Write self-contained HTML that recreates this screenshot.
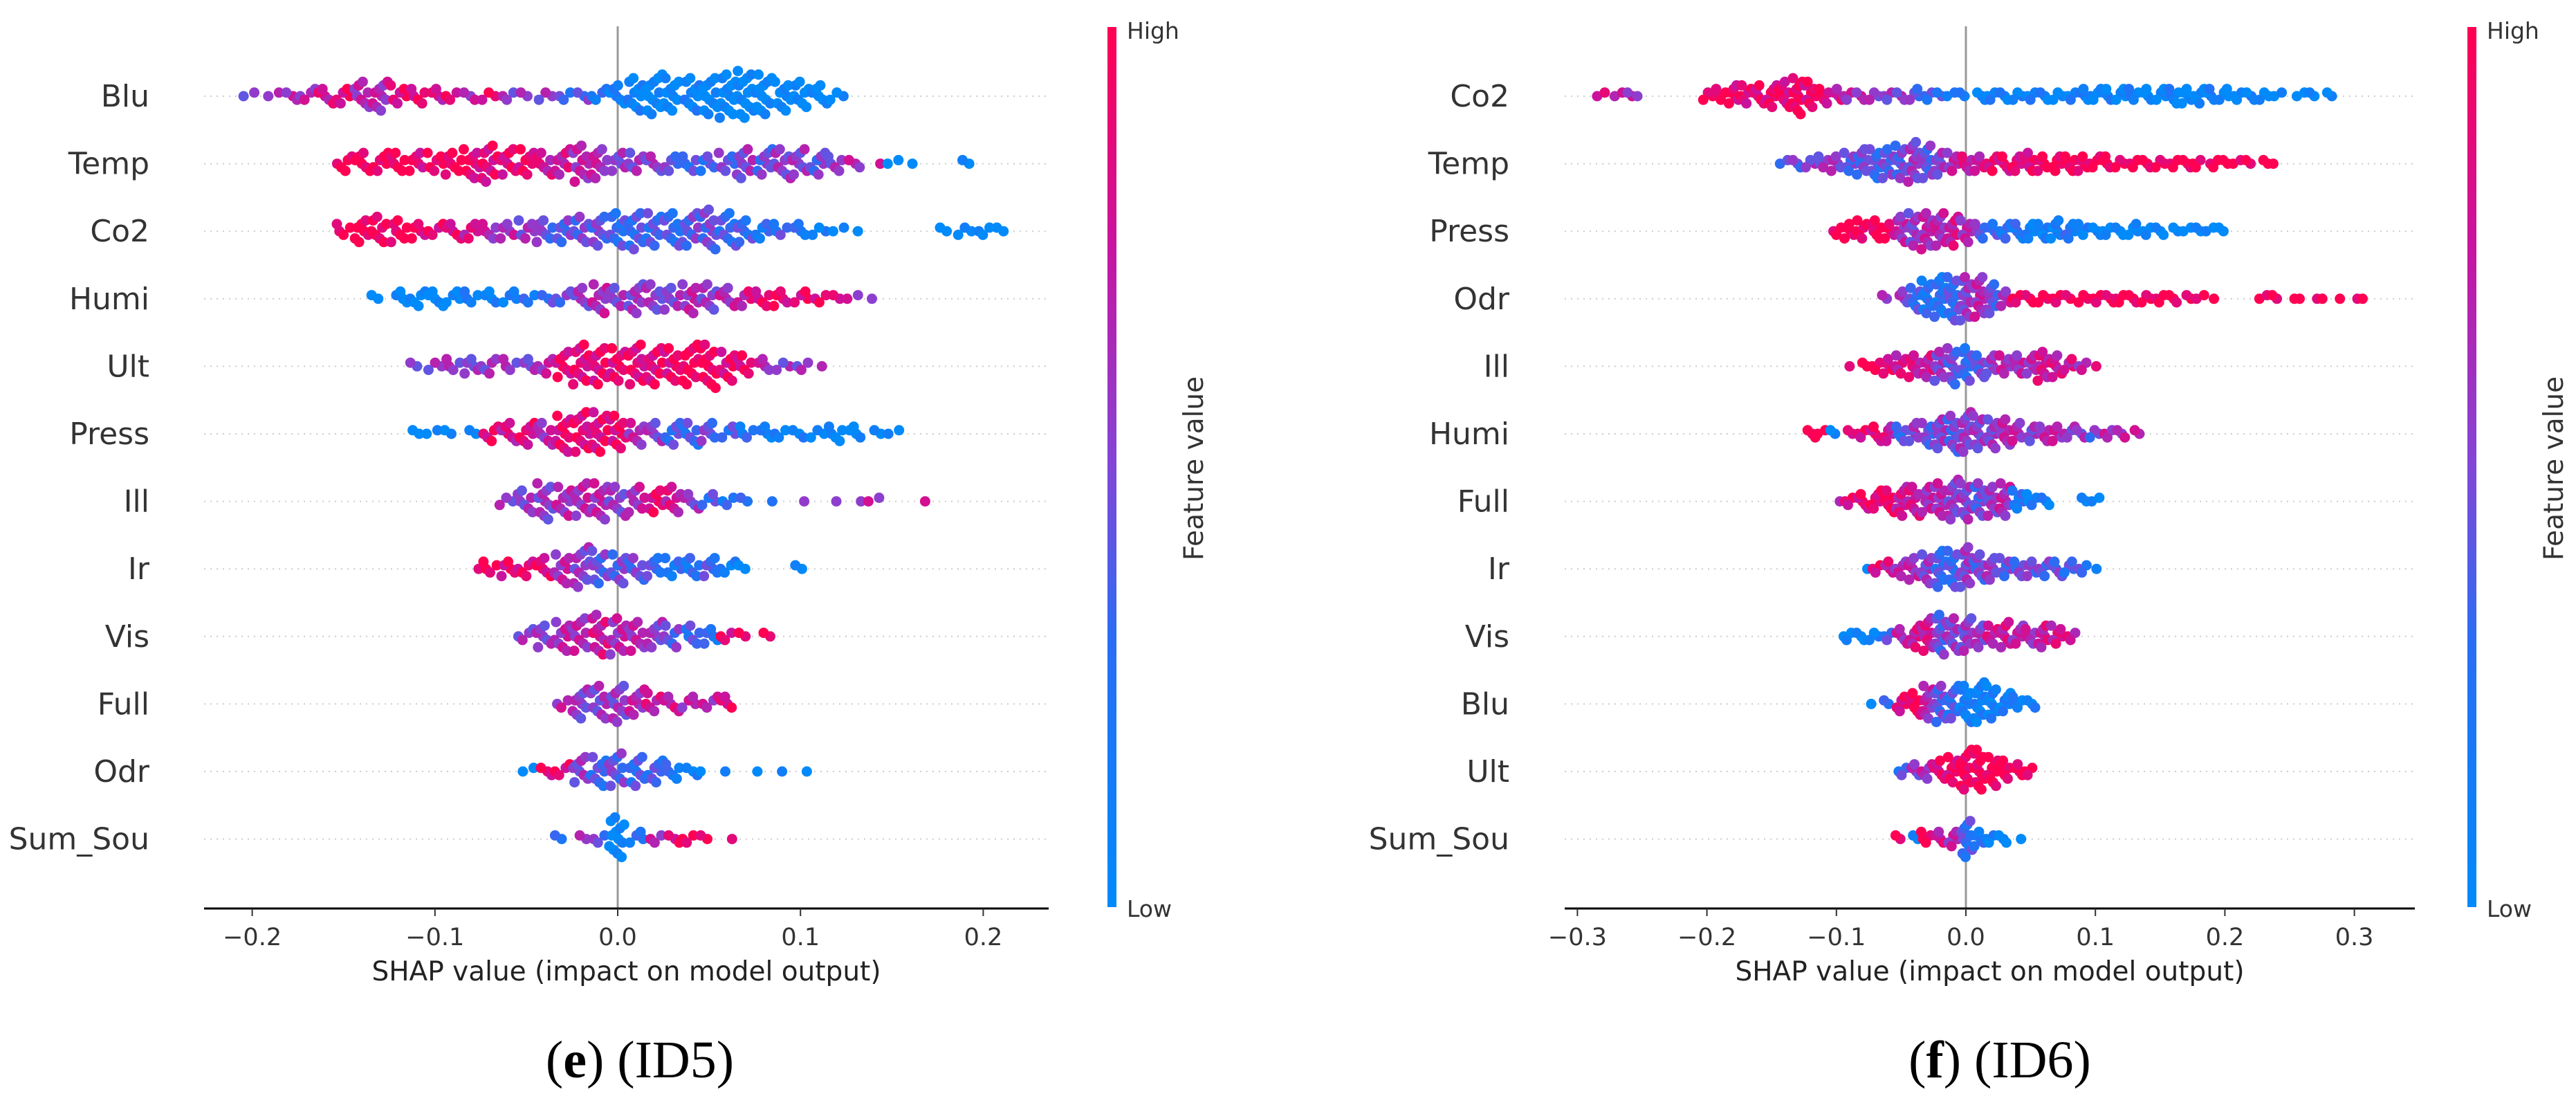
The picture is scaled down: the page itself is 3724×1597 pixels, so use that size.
<!DOCTYPE html>
<html><head><meta charset="utf-8"><style>
html,body{margin:0;padding:0;background:#fff}
svg{display:block}
text{font-family:"DejaVu Sans","Liberation Sans",sans-serif}
</style></head><body>
<svg id="fig" width="3724" height="1597" viewBox="0 0 3724 1597" xmlns="http://www.w3.org/2000/svg">
<defs>
<linearGradient id="cb" x1="0" y1="1" x2="0" y2="0">
<stop offset="0" stop-color="rgb(0,138,250)"/>
<stop offset="0.3" stop-color="rgb(40,110,245)"/>
<stop offset="0.5" stop-color="rgb(130,70,215)"/>
<stop offset="0.75" stop-color="rgb(200,20,160)"/>
<stop offset="1" stop-color="rgb(255,0,82)"/>
</linearGradient>
</defs>
</svg>
<script>
// ---- Panel (e) ID5 data ----
const featuresE = ["Blu","Temp","Co2","Humi","Ult","Press","Ill","Ir","Vis","Full","Odr","Sum_Sou"];
const startE = [-0.20,-0.15,-0.15,-0.13,-0.11,-0.11,-0.06,-0.08,-0.05,-0.03,-0.05,-0.03];
const countsE = [
[2,2,3,4,5,5,8,9,6,5,4,3,3,3,3,2,3,3,3,4,6,10,12,10,10,11,13,14,12,9,8,6,3],
[5,6,6,6,6,6,7,9,11,8,8,7,8,11,9,6,6,5,5,5,5,6,9,8,9,8,7,5,3,1,2,1,0,0,2],
[4,7,8,7,5,4,5,5,5,5,6,7,7,8,9,10,11,10,10,10,12,10,7,5,4,4,3,2,1,0,0,0,0,2,3,3,2],
[2,4,5,5,4,4,4,4,3,3,4,6,9,6,9,8,7,9,8,6,5,5,5,4,3,2,2,1],
[2,3,4,5,5,4,4,5,8,12,11,10,12,11,10,12,13,9,6,4,3,3,1],
[2,2,2,2,5,6,7,7,11,12,12,10,7,6,7,7,6,4,4,4,3,3,3,5,4,2,2],
[3,7,11,9,10,11,9,8,7,8,5,4,3,2,1,0,1,0,1,1,2,0,0,1],
[1,4,5,5,6,9,12,10,9,7,6,6,6,6,4,2,0,0,2],
[4,7,9,10,12,11,9,8,7,6,5,3,2,2],
[3,9,10,11,8,6,5,4,4,4],
[2,3,4,8,9,10,9,7,5,3,1,1,0,1,1,1],
[2,2,3,12,4,3,3,3,2,1]
];
const colorsE = [
[5,5,6,6,7,8,6,6,8,8,7,8,6,8,5,6,5,3,4,2,1,1,0,0,1,0,0,0,0,0,0,0,0],
[9,9,9,9,8,9,9,8,8,8,8,7,7,6,6,5,5,5,4,3,3,4,5,4,5,5,4,5,6,6,0,0,0,0,0],
[9,9,9,9,8,8,8,7,6,6,5,4,4,4,4,3,3,3,3,4,4,3,3,2,3,2,1,1,0,0,0,0,0,0,0,0,0],
[0,0,0,0,0,1,1,1,2,3,4,5,6,5,5,5,5,6,5,6,7,8,8,8,8,7,6,6],
[5,5,5,5,5,5,5,6,8,8,8,8,8,8,8,9,9,8,8,6,5,5,6],
[0,0,0,1,8,7,8,6,8,8,8,8,6,5,3,3,4,3,2,1,1,1,0,0,0,0,0],
[5,5,5,6,6,6,5,6,8,7,5,3,2,2,1,0,5,0,6,5,6,0,0,6],
[9,9,8,8,8,6,5,4,4,4,3,2,2,3,1,0,0,0,1],
[5,5,6,6,7,6,6,5,4,3,2,8,9,8],
[6,5,5,5,6,7,7,6,6,8],
[0,8,8,5,3,4,3,3,2,1,0,0,0,0,0,0],
[3,5,4,0,2,6,8,9,9,9]
];
const ticksE = [-0.2,-0.1,0.0,0.1,0.2];

// ---- Panel (f) ID6 data ----
const featuresF = ["Co2","Temp","Press","Odr","Ill","Humi","Full","Ir","Vis","Blu","Ult","Sum_Sou"];
const startF = [-0.28,-0.14,-0.10,-0.06,-0.09,-0.12,-0.10,-0.08,-0.09,-0.07,-0.05,-0.05];
const countsF = [
[2,2,2,1,0,0,0,0,3,4,6,6,6,7,8,11,8,5,4,3,3,3,3,3,4,3,2,2,2,3,3,3,3,3,3,3,3,4,4,4,4,4,4,4,5,5,5,4,4,3,3,3,2,0,2,2,2],
[2,3,3,4,5,6,8,9,9,10,12,10,7,6,5,5,5,5,5,6,5,5,5,5,4,4,3,3,3,3,3,3,3,3,2,2,2,2,1],
[3,5,6,6,5,8,10,11,10,9,7,5,4,5,5,5,5,6,5,4,3,3,3,4,3,3,2,2,2,2,2],
[2,4,7,10,12,13,13,12,9,5,3,3,3,3,2,3,3,3,3,3,3,3,3,2,2,1,0,0,0,2,2,1,1,1,1,1,1,1],
[1,2,3,5,6,7,7,9,11,10,7,6,6,6,6,9,7,4,3,1],
[3,2,2,2,3,5,5,5,6,7,9,11,12,10,9,8,6,5,5,5,4,3,3,3,3,2],
[1,3,5,6,7,9,9,8,10,12,11,10,9,10,6,4,3,0,0,2,2],
[1,3,4,5,7,9,11,11,12,8,7,6,5,5,5,5,4,3,1],
[3,3,3,3,5,7,10,12,10,10,7,6,8,6,5,7,6,3],
[1,2,5,7,10,11,10,11,12,10,6,4,3],
[3,4,5,6,8,12,12,9,6,4,3],
[2,2,4,4,5,11,5,3,3,1]
];
const colorsF = [
[8,6,6,6,0,0,0,0,9,9,8,8,8,8,8,9,8,8,7,6,6,5,5,5,4,3,3,2,1,1,1,1,1,1,1,0,1,1,0,1,0,1,0,0,1,0,0,1,0,0,1,0,0,0,0,0,0],
[4,4,5,5,5,4,4,3,4,4,5,4,5,6,7,7,8,8,8,8,9,9,9,9,9,9,9,9,9,9,9,9,9,9,9,9,9,9,9],
[9,9,9,9,8,6,5,6,6,7,6,4,3,2,2,1,1,1,2,1,1,0,0,0,0,0,0,0,0,0,0],
[6,5,3,2,2,3,5,6,4,6,9,9,9,9,9,9,9,9,9,9,9,9,9,9,9,9,9,9,9,9,9,9,9,9,9,9,9,9],
[9,9,9,8,7,7,7,5,4,3,4,5,6,6,6,7,7,7,6,8],
[9,9,0,8,8,8,7,3,5,4,5,4,5,5,5,6,6,5,6,6,5,5,4,6,6,6],
[7,8,8,8,9,7,7,6,6,5,5,4,5,6,2,1,1,0,0,0,0],
[1,8,7,6,6,5,3,3,5,4,5,4,4,4,4,4,3,3,2],
[0,0,1,3,6,7,7,4,5,5,5,7,7,6,6,7,7,7],
[1,2,8,9,6,4,3,1,1,1,1,1,1],
[3,5,6,8,8,9,9,9,9,9,9],
[9,0,9,7,6,3,2,1,0,0]
];
const ticksF = [-0.3,-0.2,-0.1,0.0,0.1,0.2,0.3];

const NS = "http://www.w3.org/2000/svg";
const svg = document.getElementById('fig');
function mk(tag, attrs, parent){
  const e = document.createElementNS(NS, tag);
  for (const k in attrs) e.setAttribute(k, attrs[k]);
  (parent||svg).appendChild(e);
  return e;
}
function col(v){
  v = Math.max(0, Math.min(1, v));
  const stops = [[0,[0,138,250]],[0.3,[40,110,245]],[0.5,[130,70,215]],[0.75,[200,20,160]],[1,[255,0,82]]];
  for (let i=1;i<stops.length;i++){
    if (v <= stops[i][0]){
      const a=stops[i-1], b=stops[i], t=(v-a[0])/(b[0]-a[0]);
      const c=a[1].map((x,j)=>Math.round(x+(b[1][j]-x)*t));
      return `rgb(${c[0]},${c[1]},${c[2]})`;
    }
  }
  return 'rgb(255,0,82)';
}

function panel(cfg){
  const g = mk('g', {});
  
  
  const xs = v => cfg.zero + v * cfg.unit;
  const ys = i => 139 + i * 97.6;
  cfg.features.forEach((f,i)=>{
    const l = mk('line', {x1:cfg.ax0, x2:cfg.ax1, y1:ys(i), y2:ys(i), stroke:'#cccccc', 'stroke-width':2, 'stroke-dasharray':'2 7'}, g);
    
    
  });
  const zl = mk('line', {x1:xs(0), x2:xs(0), y1:38, y2:1313, stroke:'#999999', 'stroke-width':3}, g);
  
  
  const bin = 0.01 * cfg.unit;
  cfg.features.forEach((f,i)=>{
    const rg = mk('g', {}, g);
    
    
    const cnt = cfg.counts[i], cl = cfg.colors[i];
    cnt.forEach((n,k)=>{
      const v = cfg.start[i] + k*0.01;
      for (let j=0;j<n;j++){
        const side = (j%2===0)?1:-1;
        const dy = side * Math.ceil(j/2) * 5.2;
        const ph = ((j*0.618 + k*0.371 + i*0.13) % 1) - 0.5;
        const dx = ph * bin * 0.95;
        const cv = cl[k]/9 + (((j+k)%3)-1)*0.13;
        const c = mk('circle', {cx:(xs(v)+dx).toFixed(1), cy:(ys(i)+dy).toFixed(1), r:7.5, fill:col(cv)}, rg);
        
        
      }
    });
    const t = mk('text', {x:cfg.labelX, y:ys(i)+15, 'text-anchor':'end', 'font-size':44, fill:'#333333'}, g);
    
    
    t.textContent = f;
  });
  const ax = mk('line', {x1:cfg.ax0, x2:cfg.ax1, y1:1313, y2:1313, stroke:'#000', 'stroke-width':3}, g);
  
  
  cfg.ticks.forEach(tv=>{
    const tk = mk('line', {x1:xs(tv), x2:xs(tv), y1:1313, y2:1324, stroke:'#333', 'stroke-width':2}, g);
    
    
    const tl = mk('text', {x:xs(tv), y:1366, 'text-anchor':'middle', 'font-size':35, fill:'#333333'}, g);
    
    
    tl.textContent = (tv<0?'\u2212':'') + Math.abs(tv).toFixed(1);
  });
  const xl = mk('text', {x:(cfg.ax0+cfg.ax1)/2, y:1417, 'text-anchor':'middle', 'font-size':39, fill:'#222222'}, g);
  
  
  xl.textContent = 'SHAP value (impact on model output)';
  const cb = mk('rect', {x:cfg.cbX, y:39, width:13, height:1272, fill:'url(#cb)'}, g);
  
  
  const hi = mk('text', {x:cfg.cbX+28, y:56, 'font-size':33, fill:'#333'}, g);
  
  
  hi.textContent = 'High';
  const lo = mk('text', {x:cfg.cbX+28, y:1325, 'font-size':33, fill:'#333'}, g);
  
  
  lo.textContent = 'Low';
  const fv = mk('text', {x:0, y:0, 'text-anchor':'middle', 'font-size':39, fill:'#333', transform:`translate(${cfg.cbX+138},677) rotate(-90)`}, g);
  
  
  fv.textContent = 'Feature value';
  const cap = mk('text', {x:cfg.capX, y:1557, 'text-anchor':'middle', 'font-size':76, fill:'#000', style:'font-family:"Liberation Serif",serif'}, g);
  
  
  cap.innerHTML = '(<tspan font-weight="bold">' + cfg.capL + '</tspan>) (' + cfg.capId + ')';
}

panel({name:'panel-e-id5', features:featuresE, start:startE, counts:countsE, colors:colorsE, ticks:ticksE,
  zero:893, unit:2642, ax0:295, ax1:1516, labelX:216, cbX:1601, capX:925, capL:'e', capId:'ID5'});
panel({name:'panel-f-id6', features:featuresF, start:startF, counts:countsF, colors:colorsF, ticks:ticksF,
  zero:2842, unit:1872, ax0:2262, ax1:3491, labelX:2182, cbX:3567, capX:2891, capL:'f', capId:'ID6'});
</script>
</body></html>
